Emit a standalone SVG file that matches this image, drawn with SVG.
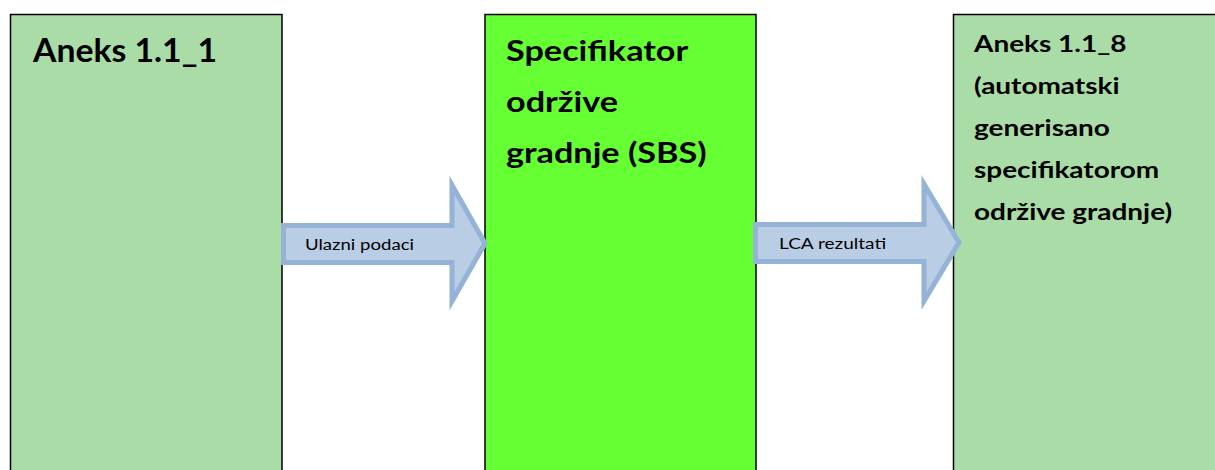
<svg xmlns="http://www.w3.org/2000/svg" width="1215" height="470" viewBox="0 0 1215 470">
<style>
.box{stroke:#000;stroke-width:1.5}
.light{fill:#aadca8}
.bright{fill:#66ff33}
.title{font-family:Lato,"Liberation Sans",sans-serif;font-weight:bold;fill:#000}
.arrow{fill:#b9cde5;stroke:#95b3d7;stroke-width:5;stroke-linejoin:miter}
.lbl{font-family:Lato,"Liberation Sans",sans-serif;font-size:15px;fill:#000}
</style>
<rect width="1215" height="470" fill="#fff"/>
<g id="node-aneks-1-1-1">
<rect class="box light" x="10.5" y="14.5" width="271.5" height="470"/>
<text class="title" transform="translate(33,0) scale(1.055,1)" x="0" y="62" font-size="32">Aneks 1.1_1</text>
</g>
<g id="node-sbs">
<rect class="box bright" x="485" y="14.5" width="271" height="470"/>
<text class="title" transform="translate(506,0) scale(1.18,1)" font-size="29"><tspan x="0" y="61">Specifikator</tspan><tspan x="0" y="112">održive</tspan><tspan x="0" y="163">gradnje (SBS)</tspan></text>
</g>
<g id="node-aneks-1-1-8">
<rect class="box light" x="953.5" y="14.5" width="280" height="470"/>
<text class="title" transform="translate(974,0) scale(1.19,1)" font-size="23.5"><tspan x="0" y="52">Aneks 1.1_8</tspan><tspan x="0" y="94">(automatski</tspan><tspan x="0" y="136">generisano</tspan><tspan x="0" y="178">specifikatorom</tspan><tspan x="0" y="220">održive gradnje)</tspan></text>
</g>
<g id="connectors">
<path class="arrow" d="M283.5,225.5 H452 V185 L485,243.5 L452,301 V262.5 H283.5 Z"/>
<text class="lbl" transform="translate(305,0) scale(1.24,1)" x="0" y="250">Ulazni podaci</text>
<path class="arrow" d="M755.5,224.5 H924 V184 L959,242.5 L924,301 V261.5 H755.5 Z"/>
<text class="lbl" transform="translate(779,0) scale(1.27,1)" x="0" y="249">LCA rezultati</text>
</g>
</svg>
